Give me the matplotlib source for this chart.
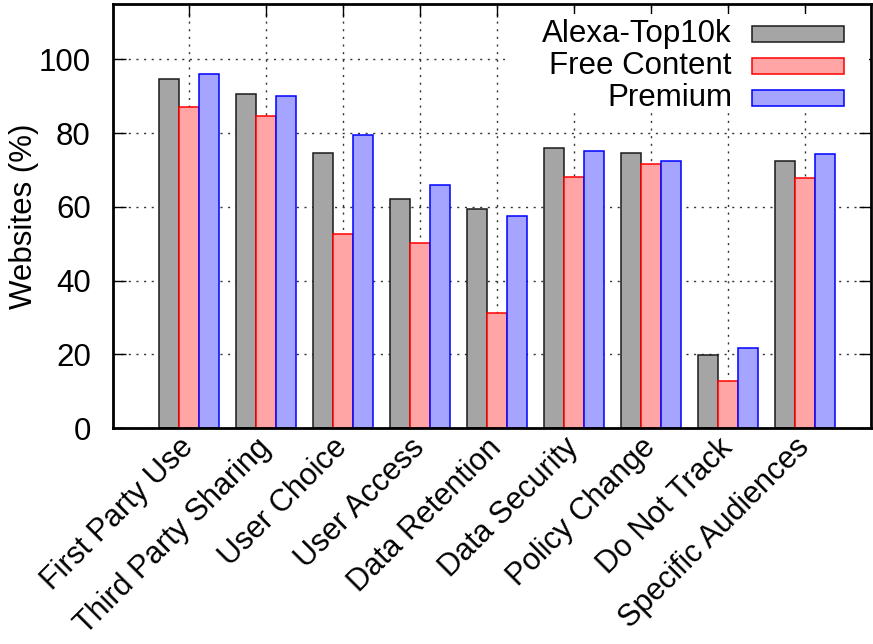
import numpy as np
import matplotlib
matplotlib.use("Agg")
import matplotlib.pyplot as plt
from matplotlib.patches import Rectangle

plt.rcParams['font.family'] = ['Liberation Sans', 'DejaVu Sans']

categories = ["First Party Use", "Third Party Sharing", "User Choice", "User Access",
              "Data Retention", "Data Security", "Policy Change", "Do Not Track",
              "Specific Audiences"]
alexa = [94.6, 90.5, 74.5, 62.1, 59.3, 75.9, 74.5, 19.8, 72.4]
free_content = [87.0, 84.6, 52.6, 50.1, 31.2, 68.0, 71.5, 12.7, 67.9]
premium = [95.9, 90.0, 79.4, 65.9, 57.5, 75.1, 72.4, 21.7, 74.3]
series_names = ["Alexa-Top10k", "Free Content", "Premium"]
yticks = [0, 20, 40, 60, 80, 100]

fills = ["#a5a5a5", "#ffa5a5", "#a5a5ff"]
edges = ["#1a1a1a", "#ff0000", "#0000ff"]

FS = 22.5
fig = plt.figure(figsize=(8.73, 6.44), dpi=100)
W, H = 873, 644
x0, x1, ytop, ybot = 113, 871, 4, 428
ax = fig.add_axes([x0 / W, (H - ybot) / H, (x1 - x0) / W, (ybot - ytop) / H])

x = np.arange(len(categories))
bw = 0.26
for i, vals in enumerate([alexa, free_content, premium]):
    ax.bar(x + (i - 1) * bw, vals, width=bw, color=fills[i], edgecolor=edges[i],
           linewidth=1.1, zorder=3)

ax.set_xlim(-0.99, 8.86)
ax.set_ylim(0, 115)
ax.set_yticks(yticks)
ax.set_xticks(x)
ax.set_xticklabels(categories, rotation=45, ha='right', va='center',
                   rotation_mode='anchor', fontsize=22)
ax.tick_params(axis='x', pad=11)
ax.tick_params(axis='y', labelsize=FS, pad=16)
ax.tick_params(direction='in', length=9, width=1, top=True, right=True, color='black')
ax.grid(True, linestyle=(0, (1.5, 4)), color='#333333', linewidth=1.0, zorder=1)
ax.set_axisbelow(True)
for s in ax.spines.values():
    s.set_linewidth(2)
    s.set_zorder(5)

ax.set_ylabel("Websites (%)", fontsize=FS)
ax.yaxis.set_label_coords(-0.097, 0.5)

# key box, opaque over the grid
ax.add_patch(Rectangle((0.517, 0.745), 0.48, 0.232, transform=ax.transAxes,
                       facecolor='white', edgecolor='none', zorder=2))
rows_y = [0.929, 0.854, 0.778]
for name, fc, ec, yy in zip(series_names, fills, edges, rows_y):
    ax.text(0.8166, yy, name, transform=ax.transAxes, ha='right', va='center',
            fontsize=FS, zorder=4)
    ax.add_patch(Rectangle((0.843, yy - 0.019), 0.1214, 0.038, transform=ax.transAxes,
                           facecolor=fc, edgecolor=ec, linewidth=1.1, zorder=4))

fig.savefig("out.png", dpi=100)
